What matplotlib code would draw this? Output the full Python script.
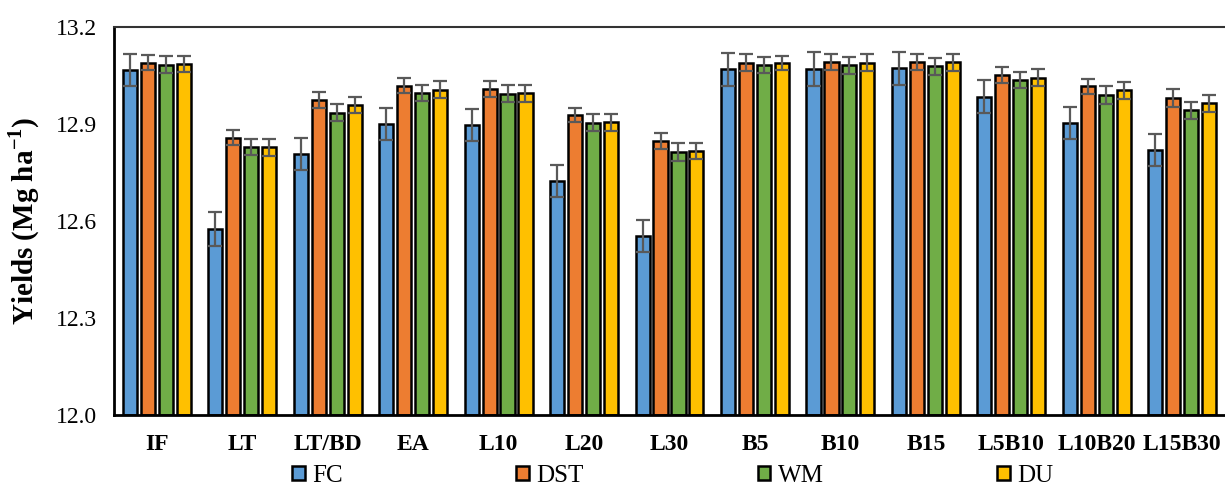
import matplotlib.pyplot as plt
import numpy as np

plt.rcParams['font.family'] = ['Liberation Serif', 'DejaVu Serif']
plt.rcParams['mathtext.fontset'] = 'custom'
plt.rcParams['mathtext.rm'] = 'Liberation Serif'
plt.rcParams['mathtext.bf'] = 'Liberation Serif:bold'

categories = ["IF", "LT", "LT/BD", "EA", "L10", "L20", "L30",
              "B5", "B10", "B15", "L5B10", "L10B20", "L15B30"]

fc = [13.067, 12.575, 12.807, 12.900, 12.896, 12.724, 12.553,
      13.069, 13.070, 13.072, 12.985, 12.903, 12.820]
dst = [13.089, 12.858, 12.974, 13.019, 13.008, 12.928, 12.847,
       13.090, 13.092, 13.093, 13.052, 13.016, 12.980]
wm = [13.084, 12.828, 12.935, 12.996, 12.994, 12.904, 12.814,
      13.082, 13.081, 13.078, 13.036, 12.989, 12.943]
du = [13.085, 12.828, 12.958, 13.006, 12.995, 12.905, 12.816,
      13.088, 13.090, 13.091, 13.043, 13.004, 12.964]

fc_err = [0.050, 0.052, 0.050, 0.049, 0.050, 0.050, 0.050,
          0.051, 0.052, 0.050, 0.051, 0.049, 0.050]
dst_err = [0.023, 0.024, 0.025, 0.024, 0.024, 0.023, 0.024,
           0.025, 0.024, 0.025, 0.024, 0.023, 0.027]
wm_err = [0.025, 0.025, 0.027, 0.025, 0.026, 0.026, 0.027,
          0.025, 0.027, 0.026, 0.026, 0.028, 0.026]
du_err = [0.025, 0.026, 0.025, 0.027, 0.026, 0.026, 0.025,
          0.021, 0.025, 0.027, 0.026, 0.027, 0.026]

series = [("FC", fc, fc_err, "#5B9BD5"),
          ("DST", dst, dst_err, "#ED7D31"),
          ("WM", wm, wm_err, "#70AD47"),
          ("DU", du, du_err, "#FFC000")]

fig = plt.figure(figsize=(12.25, 4.87), dpi=100)
ax = fig.add_axes([114 / 1225, 1 - 415 / 487, 1 - 114 / 1225, 388 / 487])

x = np.arange(len(categories))
width = 0.165
pitch = 0.21
for i, (name, vals, errs, color) in enumerate(series):
    pos = x + (i - 1.5) * pitch
    ax.bar(pos, np.array(vals) - 12.0, width, bottom=12.0, color=color,
           edgecolor="black", linewidth=1.8, label=name, zorder=2)
    ax.errorbar(pos, vals, yerr=errs, fmt="none", ecolor="#595959",
                elinewidth=1.6, capsize=5, capthick=1.6, zorder=3)

ax.set_xlim(-0.5, len(categories) - 0.5)
ax.set_ylim(12.0, 13.2)
ax.set_yticks([12.0, 12.3, 12.6, 12.9, 13.2])
ax.set_yticklabels(["12.0", "12.3", "12.6", "12.9", "13.2"], fontsize=17)
ax.set_xticks(x)
ax.set_xticklabels(categories, fontsize=17, fontweight="bold")
ax.tick_params(axis="both", length=0)
ax.tick_params(axis="x", pad=14)
ax.tick_params(axis="y", pad=12)

ax.spines["right"].set_visible(False)
ax.spines["left"].set_linewidth(2)
ax.spines["bottom"].set_linewidth(2)
ax.spines["top"].set_linewidth(1.5)
ax.spines["top"].set_color("#333333")

ax.set_ylabel("Yields (Mg ha$^{\\mathbf{-1}}$)", fontsize=21, fontweight="bold",
              labelpad=10)

leg = fig.legend(loc="center left", bbox_to_anchor=(292 / 1225, 1 - 476 / 487),
                 ncol=4, frameon=False, fontsize=18, handlelength=0.5,
                 handleheight=0.5, handletextpad=0.3, columnspacing=6.95,
                 borderaxespad=0, borderpad=0)
for h in leg.legend_handles:
    h.set_linewidth(1.8)

fig.savefig("out.png", dpi=100)
